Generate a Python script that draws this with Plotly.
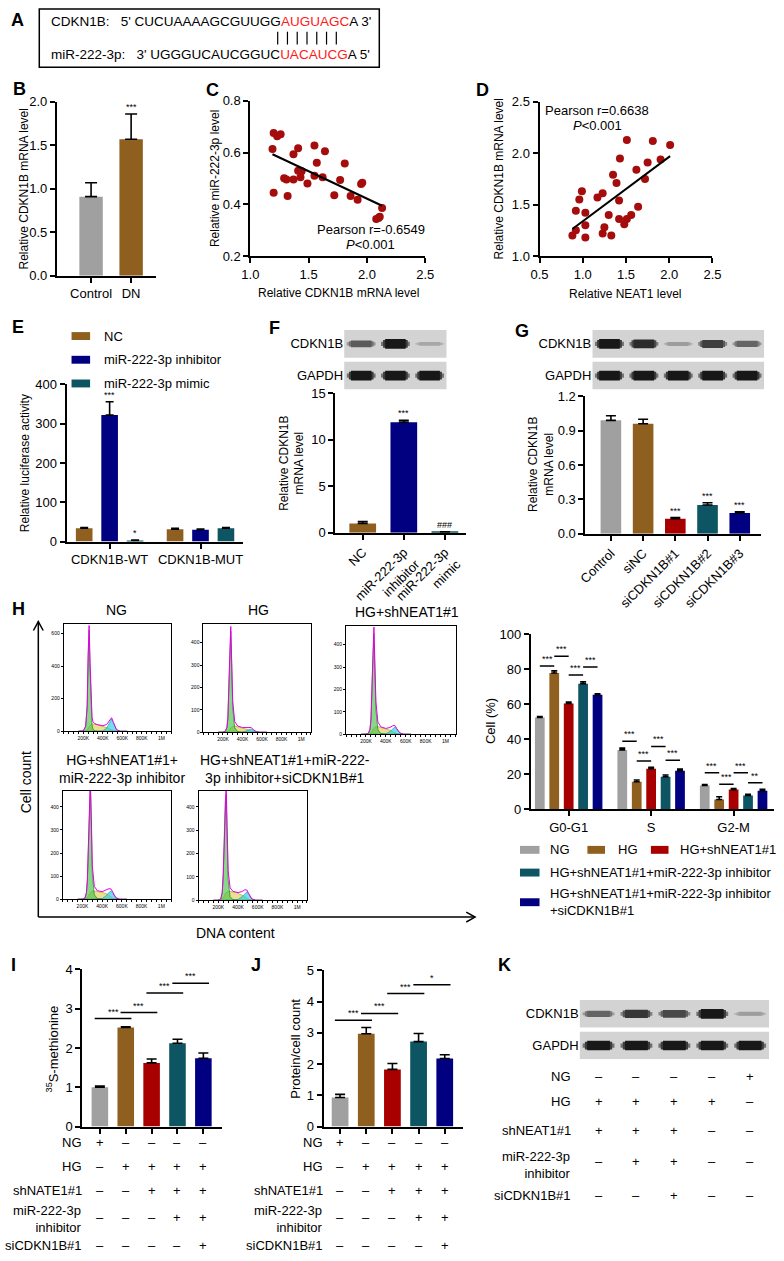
# -*- coding: utf-8 -*-
"""
CDKN1B / miR-222-3p / NEAT1 figure, panels A-K
"""
#-------------------------------------------------------
### IMPORTS ###

import numpy as np
import plotly.graph_objects as go


#-------------------------------------------------------
### DATA ###

# A - binding site
cdkn1b_seq = ["CDKN1B:", "5' CUCUAAAAGCGUUGG", "AUGUAGC", "A 3'"]
mir_seq = ["miR-222-3p:", "3' UGGGUCAUCGGUC", "UACAUCG", "A 5'"]

# B
b_groups = ["Control", "DN"]
b_mean = [0.91, 1.57]
b_sd = [0.16, 0.29]
b_stars = ["", "***"]

# C
c_x = [1.20, 1.23, 1.26, 1.19, 1.20, 1.29, 1.31, 1.32, 1.37, 1.37, 1.41, 1.41, 1.44, 1.43, 1.49, 1.55,
       1.57, 1.55, 1.62, 1.64, 1.72, 1.77, 1.81, 1.86, 1.92, 1.95, 1.96, 2.13, 2.11, 2.08, 2.10]
c_y = [0.676, 0.663, 0.671, 0.614, 0.445, 0.501, 0.496, 0.432, 0.594, 0.496, 0.617, 0.530, 0.528, 0.505,
       0.480, 0.627, 0.561, 0.510, 0.505, 0.605, 0.435, 0.494, 0.558, 0.432, 0.418, 0.478, 0.483, 0.386,
       0.352, 0.343, 0.347]
c_stat = ["Pearson r=-0.6549", "<i>P</i>&lt;0.001"]

# D
d_x = [1.51, 1.81, 2.01, 1.43, 1.90, 1.75, 1.62, 1.35, 1.72, 1.39, 0.99, 0.96, 1.23, 1.17, 1.42, 0.92,
       1.03, 1.64, 1.30, 1.42, 1.56, 1.51, 1.48, 1.03, 1.25, 0.92, 0.88, 1.03, 1.23, 1.33]
d_y = [2.13, 2.12, 2.08, 1.95, 1.94, 1.91, 1.84, 1.79, 1.75, 1.71, 1.63, 1.55, 1.61, 1.57, 1.54, 1.44,
       1.42, 1.48, 1.40, 1.36, 1.40, 1.36, 1.31, 1.30, 1.28, 1.25, 1.20, 1.18, 1.22, 1.20]
d_stat = ["Pearson r=0.6638", "<i>P</i>&lt;0.001"]

# E
e_groups = ["CDKN1B-WT", "CDKN1B-MUT"]
e_names = ["NC", "miR-222-3p inhibitor", "miR-222-3p mimic"]
e_nc = [34, 31.5]
e_nc_sd = [2, 2]
e_inh = [322, 30]
e_inh_sd = [34, 2]
e_mim = [3, 34]
e_mim_sd = [1, 2]
e_stars = [["", ""], ["***", ""], ["*", ""]]

# F
f_groups = ["NC", "miR-222-3p<br>inhibitor", "miR-222-3p<br>mimic"]
f_mean = [1.0, 11.9, 0.08]
f_sd = [0.2, 0.2, 0.02]
f_stars = ["", "***", "###"]
f_blot_cdkn1b = [0.6, 0.95, 0.2]
f_blot_gapdh = [0.95, 0.95, 0.95]

# G
g_groups = ["Control", "siNC", "siCDKN1B#1", "siCDKN1B#2", "siCDKN1B#3"]
g_mean = [0.99, 0.96, 0.13, 0.25, 0.18]
g_sd = [0.04, 0.04, 0.01, 0.02, 0.01]
g_stars = ["", "", "***", "***", "***"]
g_blot_cdkn1b = [0.95, 0.85, 0.25, 0.75, 0.55]
g_blot_gapdh = [0.95, 0.95, 0.95, 0.95, 0.95]

# H - flow cytometry histograms (DNA content in K, counts)
hist_titles = ["NG", "HG", "HG+shNEAT1#1", "HG+shNEAT1#1+<br>miR-222-3p inhibitor",
               "HG+shNEAT1#1+miR-222-<br>3p inhibitor+siCDKN1B#1"]
hist_dna = [150, 200, 225, 240, 250, 260, 270, 280, 290, 300, 320, 350, 400, 440, 470, 490, 510, 540, 580, 650]
ng_g1 = [0, 2, 30, 150, 450, 620, 380, 130, 40, 12, 2, 0, 0, 0, 0, 0, 0, 0, 0, 0]
ng_s = [0, 0, 2, 8, 18, 28, 36, 42, 45, 46, 44, 40, 32, 22, 14, 8, 3, 0, 0, 0]
ng_g2 = [0, 0, 0, 0, 0, 0, 0, 0, 0, 0, 0, 0, 2, 20, 55, 75, 50, 10, 0, 0]
hg_g1 = [0, 0, 5, 20, 60, 160, 330, 450, 300, 110, 20, 3, 0, 0, 0, 0, 0, 0, 0, 0]
hg_s = [0, 0, 0, 2, 5, 10, 16, 22, 26, 28, 28, 25, 20, 14, 10, 6, 2, 0, 0, 0]
hg_g2 = [0, 0, 0, 0, 0, 0, 0, 0, 0, 0, 0, 0, 1, 6, 12, 15, 10, 3, 0, 0]
sh_g1 = [0, 0, 5, 20, 60, 160, 330, 450, 300, 110, 20, 3, 0, 0, 0, 0, 0, 0, 0, 0]
sh_s = [0, 0, 0, 3, 8, 15, 22, 28, 32, 34, 34, 30, 24, 18, 12, 7, 3, 0, 0, 0]
sh_g2 = [0, 0, 0, 0, 0, 0, 0, 0, 0, 0, 0, 0, 2, 12, 26, 32, 22, 6, 0, 0]
inh_g1 = [0, 0, 5, 25, 80, 200, 380, 490, 320, 110, 20, 3, 0, 0, 0, 0, 0, 0, 0, 0]
inh_s = [0, 0, 0, 3, 8, 15, 24, 30, 34, 36, 36, 34, 30, 24, 16, 9, 3, 0, 0, 0]
inh_g2 = [0, 0, 0, 0, 0, 0, 0, 0, 0, 0, 0, 0, 3, 15, 30, 35, 24, 6, 0, 0]
si_g1 = [0, 0, 5, 30, 100, 250, 420, 455, 280, 90, 15, 2, 0, 0, 0, 0, 0, 0, 0, 0]
si_s = [0, 0, 0, 4, 10, 18, 28, 34, 36, 38, 38, 36, 30, 22, 15, 8, 3, 0, 0, 0]
si_g2 = [0, 0, 0, 0, 0, 0, 0, 0, 0, 0, 0, 0, 3, 15, 30, 36, 25, 6, 0, 0]

# H - cell cycle bars
h_phases = ["G0-G1", "S", "G2-M"]
h_names = ["NG", "HG", "HG+shNEAT1#1", "HG+shNEAT1#1+miR-222-3p inhibitor",
           "HG+shNEAT1#1+miR-222-3p inhibitor<br>+siCDKN1B#1"]
h_ng = [52.5, 34, 13.6]
h_ng_sd = [0.6, 1.0, 0.6]
h_hg = [78, 15.8, 5.6]
h_hg_sd = [1.2, 1.0, 1.6]
h_sh = [60.5, 23.2, 11.3]
h_sh_sd = [0.9, 0.9, 0.6]
h_inh = [71.8, 18.6, 7.9]
h_inh_sd = [1.1, 1.0, 0.7]
h_si = [65.5, 22, 10.6]
h_si_sd = [0.6, 1.0, 0.9]
# (phase, group a, group b, height, label)
h_sig = [(0, 0, 1, 82, "***"), (0, 1, 2, 87.6, "***"), (0, 2, 3, 76.8, "***"), (0, 3, 4, 81.4, "***"),
         (1, 0, 1, 39, "***"), (1, 1, 2, 27.7, "***"), (1, 2, 3, 36, "***"), (1, 3, 4, 28, "***"),
         (2, 0, 1, 20.9, "***"), (2, 1, 2, 14.3, "***"), (2, 2, 3, 20.9, "***"), (2, 3, 4, 15.2, "**")]

# I
i_mean = [1.0, 2.52, 1.62, 2.12, 1.74]
i_sd = [0.03, 0.02, 0.1, 0.1, 0.13]
i_sig = [(0, 1, 2.75, "***"), (1, 2, 2.9, "***"), (2, 3, 3.4, "***"), (3, 4, 3.65, "***")]

# J
j_mean = [0.93, 2.97, 1.83, 2.72, 2.18]
j_sd = [0.1, 0.2, 0.19, 0.26, 0.12]
j_sig = [(0, 1, 3.4, "***"), (1, 2, 3.62, "***"), (2, 3, 4.26, "***"), (3, 4, 4.54, "*")]

ij_rows = ["NG", "HG", "shNATE1#1", "miR-222-3p<br>inhibitor", "siCDKN1B#1"]
ij_signs = [["+", "–", "–", "–", "–"],
            ["–", "+", "+", "+", "+"],
            ["–", "–", "+", "+", "+"],
            ["–", "–", "–", "+", "+"],
            ["–", "–", "–", "–", "+"]]

# K
k_blot_cdkn1b = [0.55, 0.8, 0.7, 0.95, 0.25]
k_blot_gapdh = [0.95, 0.95, 0.95, 0.95, 0.95]
k_rows = ["NG", "HG", "shNEAT1#1", "miR-222-3p<br>inhibitor", "siCDKN1B#1"]
k_signs = [["–", "–", "–", "–", "+"],
           ["+", "+", "+", "+", "–"],
           ["+", "+", "+", "–", "–"],
           ["–", "+", "+", "–", "–"],
           ["–", "–", "+", "–", "–"]]


#-------------------------------------------------------
### STYLE ###

W, H = 784, 1261
FONT = "Liberation Sans, Arial, sans-serif"
GRAY = "#a0a0a0"
BROWN = "#8f5f1f"
RED = "#a80000"
TEAL = "#0d5562"
NAVY = "#000080"
DOT = "#a50d0d"
FIVE = [GRAY, BROWN, RED, TEAL, NAVY]

fig = go.Figure()
axes_layout = {}
shapes = []
annos = []
n_axes = [0]


def axes(x0, x1, y0, y1, xo, yo):
    # pixel box -> paper domains
    n_axes[0] += 1
    s = "" if n_axes[0] == 1 else str(n_axes[0])
    axes_layout["xaxis" + s] = dict(domain=[x0 / W, x1 / W], anchor="y" + s, **xo)
    axes_layout["yaxis" + s] = dict(domain=[1 - y1 / H, 1 - y0 / H], anchor="x" + s, **yo)
    return "x" + s, "y" + s


def ax_style(rng, **kw):
    d = dict(range=rng, showline=True, linecolor="black", linewidth=2, ticks="outside",
             ticklen=5, tickwidth=2, tickcolor="black", showgrid=False, zeroline=False,
             fixedrange=True, tickfont=dict(family=FONT, size=13, color="black"))
    d.update(kw)
    return d


def text(x, y, s, size=13, **kw):
    d = dict(x=x / W, y=1 - y / H, xref="paper", yref="paper", text=s, showarrow=False,
             xanchor="center", yanchor="middle", font=dict(family=FONT, size=size, color="black"))
    d.update(kw)
    annos.append(d)


def letter(x, y, s):
    text(x, y, "<b>" + s + "</b>", size=18)


def star(xa, ya, x, y, s, size=9):
    annos.append(dict(x=x, y=y, xref=xa, yref=ya, text=s, showarrow=False, xanchor="center",
                      yanchor="bottom", yshift=0, font=dict(family=FONT, size=size, color="black")))


def add_bars(xa, ya, xs, means, sds, color, width, cap=5):
    fig.add_trace(go.Bar(x=xs, y=means, width=width, marker=dict(color=color, line=dict(width=0)),
                         error_y=dict(type="data", symmetric=False, array=sds,
                                      arrayminus=[0] * len(sds), color="black",
                                      thickness=1.6, width=cap),
                         xaxis=xa, yaxis=ya, showlegend=False, hoverinfo="skip"))


def bracket(xa, ya, xl, xr, y, s):
    fig.add_trace(go.Scatter(x=[xl, xr], y=[y, y], mode="lines", line=dict(color="black", width=1.5),
                             xaxis=xa, yaxis=ya, showlegend=False, hoverinfo="skip"))
    star(xa, ya, (xl + xr) / 2, y, s)


def blot(xa, ya, top, bottom):
    n = len(top)
    for vals, y0, y1 in [(top, 1.07, 2.0), (bottom, 0.0, 0.93)]:
        shapes.append(dict(type="rect", xref=xa, yref=ya, x0=-0.5, x1=n - 0.5, y0=y0, y1=y1,
                           fillcolor="#d3d3d3", line=dict(width=0), layer="below"))
        yc = (y0 + y1) / 2
        for i, v in enumerate(vals):
            for half, wm, k in [(0.42, 0.45, 0.5), (0.36, 0.8, 0.8), (0.3, 1.0, 1.0)]:
                g = int(205 - 190 * v * k)
                fig.add_trace(go.Scatter(x=[i - half, i + half], y=[yc, yc], mode="lines",
                                         line=dict(color="rgb(%d,%d,%d)" % (g, g, g), width=(2 + 8 * v) * wm),
                                         xaxis=xa, yaxis=ya, showlegend=False, hoverinfo="skip"))


def blot_y(labels):
    return dict(range=[0, 2], tickvals=[1.535, 0.465], ticktext=labels, showline=False, ticks="",
                showgrid=False, zeroline=False, fixedrange=True,
                tickfont=dict(family=FONT, size=13, color="black"))


def hidden(rng):
    return dict(range=rng, visible=False, fixedrange=True)


def sign_table(xa, row_y, label_y, label_x, rows, signs):
    for r, row in enumerate(rows):
        text(label_x, label_y[r], row, size=13, xanchor="right", align="right")
        for c, sgn in enumerate(signs[r]):
            annos.append(dict(x=c, y=1 - row_y[r] / H, xref=xa, yref="paper", text=sgn,
                              showarrow=False, xanchor="center", yanchor="middle",
                              font=dict(family=FONT, size=13, color="black")))


def paper_line(x0, y0, x1, y1, width=1.5):
    shapes.append(dict(type="line", xref="paper", yref="paper", x0=x0 / W, x1=x1 / W,
                       y0=1 - y0 / H, y1=1 - y1 / H, line=dict(color="black", width=width)))


#-------------------------------------------------------
### A ###

letter(9, 13, "A")
shapes.append(dict(type="rect", xref="paper", yref="paper", x0=31 / W, x1=379 / W,
                   y0=1 - 61 / H, y1=1 - 2 / H, line=dict(color="black", width=1.5)))
gap = "\u00a0\u00a0\u00a0"
for y, seq in [(15, cdkn1b_seq), (48, mir_seq)]:
    text(42, y, seq[0] + gap + seq[1] + "<span style='color:#ff1a1a'>" + seq[2] + "</span>" + seq[3],
         size=13.5, xanchor="left", borderpad=0)
for i in range(len(cdkn1b_seq[2])):
    paper_line(275 + 10 * i, 25, 275 + 10 * i, 38, width=1.2)

#-------------------------------------------------------
### B ###

letter(11, 83, "B")
xa, ya = axes(49, 150, 96, 272,
              ax_style([-0.854, 1.61], tickvals=[0, 1], ticktext=b_groups),
              ax_style([0, 2], dtick=0.5, tickformat=".1f"))
add_bars(xa, ya, [0, 1], b_mean, b_sd, [GRAY, BROWN], 0.585, cap=6)
for i, s in enumerate(b_stars):
    if s:
        star(xa, ya, i, b_mean[i] + b_sd[i], s)
text(15, 184, "Relative CDKN1B mRNA level", size=12, textangle=-90)

#-------------------------------------------------------
### C ###

letter(208, 84, "C")
xa, ya = axes(247, 426, 95, 252,
              ax_style([1.0, 2.5], dtick=0.5, tickformat=".1f"),
              ax_style([0.2, 0.8], dtick=0.2, tickformat=".1f"))
fig.add_trace(go.Scatter(x=c_x, y=c_y, mode="markers", marker=dict(size=8, color=DOT),
                         xaxis=xa, yaxis=ya, showlegend=False, hoverinfo="skip"))
k, b = np.polyfit(c_x, c_y, 1)
xl = np.array([min(c_x), max(c_x)])
fig.add_trace(go.Scatter(x=xl, y=k * xl + b, mode="lines", line=dict(color="black", width=2),
                         xaxis=xa, yaxis=ya, showlegend=False, hoverinfo="skip"))
text(370, 225, c_stat[0], size=13)
text(370, 240, c_stat[1], size=13)
text(211, 174, "Relative miR-222-3p level", size=12, textangle=-90)
text(337, 289, "Relative CDKN1B mRNA level", size=12)

#-------------------------------------------------------
### D ###

letter(485, 84, "D")
xa, ya = axes(543, 720, 96, 252,
              ax_style([0.5, 2.5], dtick=0.5, tickformat=".1f"),
              ax_style([1.0, 2.5], dtick=0.5, tickformat=".1f"))
fig.add_trace(go.Scatter(x=d_x, y=d_y, mode="markers", marker=dict(size=8, color=DOT),
                         xaxis=xa, yaxis=ya, showlegend=False, hoverinfo="skip"))
k, b = np.polyfit(d_x, d_y, 1)
xl = np.array([min(d_x), max(d_x)])
fig.add_trace(go.Scatter(x=xl, y=k * xl + b, mode="lines", line=dict(color="black", width=2),
                         xaxis=xa, yaxis=ya, showlegend=False, hoverinfo="skip"))
text(602, 105, d_stat[0], size=13)
text(602, 120, d_stat[1], size=13)
text(501, 174, "Relative CDKN1B mRNA level", size=12, textangle=-90)
text(631, 290, "Relative NEAT1 level", size=12)

#-------------------------------------------------------
### E ###

letter(9, 324, "E")
xa, ya = axes(59, 240, 382, 541,
              ax_style([-0.473, 1.473], tickvals=[0, 1], ticktext=e_groups),
              ax_style([0, 400], dtick=100))
e_series = [(e_nc, e_nc_sd, BROWN), (e_inh, e_inh_sd, NAVY), (e_mim, e_mim_sd, TEAL)]
for j, (means, sds, col) in enumerate(e_series):
    xs = [g + (j - 1) * 0.28 for g in range(len(e_groups))]
    add_bars(xa, ya, xs, means, sds, col, 0.183, cap=4)
    for g, s in enumerate(e_stars[j]):
        if s:
            star(xa, ya, xs[g], means[g] + sds[g], s)
for j, (name, yc) in enumerate(zip(e_names, [333, 357, 381])):
    shapes.append(dict(type="rect", xref="paper", yref="paper", x0=64 / W, x1=83 / W,
                       y0=1 - (yc + 4) / H, y1=1 - (yc - 4) / H, fillcolor=e_series[j][2],
                       line=dict(width=0)))
    text(95, yc, name, size=13, xanchor="left")
text(16, 462, "Relative luciferase activity", size=12, textangle=-90)

#-------------------------------------------------------
### F ###

letter(272, 325, "F")
xa, ya = axes(343, 448, 327, 387, hidden([-0.5, 2.5]), blot_y(["CDKN1B", "GAPDH"]))
blot(xa, ya, f_blot_cdkn1b, f_blot_gapdh)
xa, ya = axes(334, 468, 391, 532,
              ax_style([-0.667, 2.52], tickvals=[0, 1, 2], ticktext=f_groups, tickangle=-45),
              ax_style([0, 15], dtick=5))
add_bars(xa, ya, [0, 1, 2], f_mean, f_sd, [BROWN, NAVY, TEAL], 0.65, cap=5)
for i, s in enumerate(f_stars):
    if s:
        star(xa, ya, i, f_mean[i] + f_sd[i], s)
text(289, 462, "Relative CDKN1B<br>mRNA level", size=12, textangle=-90)

#-------------------------------------------------------
### G ###

letter(525, 328, "G")
xa, ya = axes(597, 773, 327, 387, hidden([-0.5, 4.5]), blot_y(["CDKN1B", "GAPDH"]))
blot(xa, ya, g_blot_cdkn1b, g_blot_gapdh)
xa, ya = axes(590, 770, 394, 533,
              ax_style([-0.79, 4.67], tickvals=list(range(5)), ticktext=g_groups, tickangle=-45),
              ax_style([0, 1.2], dtick=0.3, tickformat=".1f"))
add_bars(xa, ya, list(range(5)), g_mean, g_sd, FIVE, 0.64, cap=5)
for i, s in enumerate(g_stars):
    if s:
        star(xa, ya, i, g_mean[i] + g_sd[i], s)
text(545, 463, "Relative CDKN1B<br>mRNA level", size=12, textangle=-90)

#-------------------------------------------------------
### H - histograms ###

letter(10, 609, "H")
hist_boxes = [(56, 166, 624, 733), (199, 309, 624, 734), (345, 457, 626, 736),
              (55, 166, 793, 903), (194, 305, 793, 904)]
hist_ymax = [660, 485, 485, 470, 470]
hist_yticks = [[0, 200, 400, 600], [0, 100, 200, 300, 400], [0, 100, 200, 300, 400],
               [0, 100, 200, 300, 400], [0, 100, 200, 300, 400]]
hist_parts = [(ng_g1, ng_s, ng_g2), (hg_g1, hg_s, hg_g2), (sh_g1, sh_s, sh_g2),
              (inh_g1, inh_s, inh_g2), (si_g1, si_s, si_g2)]
hist_title_pos = [(110, 610), (255, 610), (407, 612), (116, 771), (282, 771)]

for box, ymax, yt, (g1, s, g2), title, tpos in zip(hist_boxes, hist_ymax, hist_yticks,
                                                     hist_parts, hist_titles, hist_title_pos):
    xo = dict(range=[0, 1100], tickvals=[200, 400, 600, 800, 1000],
              ticktext=["200K", "400K", "600K", "800K", "1M"], showline=True, mirror=True,
              linecolor="black", linewidth=1, ticks="outside", ticklen=2, tickwidth=0.8,
              tickcolor="black", showgrid=False, zeroline=False, fixedrange=True,
              tickfont=dict(family=FONT, size=5, color="black"),
              minor=dict(ticks="outside", ticklen=1.5, dtick=50, tickcolor="black", tickwidth=0.5))
    yo = dict(range=[0, ymax], tickvals=yt, showline=True, mirror=True, linecolor="black",
              linewidth=1, ticks="outside", ticklen=2, tickwidth=0.8, tickcolor="black",
              showgrid=False, zeroline=False, fixedrange=True,
              tickfont=dict(family=FONT, size=5, color="black"))
    xa, ya = axes(box[0], box[1], box[2], box[3], xo, yo)
    for part, fc, lc in [(s, "rgba(220,205,70,0.6)", "rgba(140,130,0,0.8)"),
                         (g2, "rgba(40,205,230,0.65)", "rgba(0,120,150,0.8)"),
                         (g1, "rgba(70,195,70,0.65)", "rgba(0,100,0,0.9)")]:
        fig.add_trace(go.Scatter(x=hist_dna, y=part, mode="lines", fill="tozeroy", fillcolor=fc,
                                 line=dict(color=lc, width=0.6), xaxis=xa, yaxis=ya,
                                 showlegend=False, hoverinfo="skip"))
    total = np.array(g1) + np.array(s) + np.array(g2)
    fig.add_trace(go.Scatter(x=hist_dna, y=total, mode="lines", line=dict(color="#e000e0", width=1),
                             xaxis=xa, yaxis=ya, showlegend=False, hoverinfo="skip"))
    text(tpos[0], tpos[1], title, size=14)

# cell count / DNA content arrows with open heads
paper_line(30, 921, 30, 622)
paper_line(30, 921, 477, 921)
for path in ["M %f,%f L %f,%f L %f,%f" % (25 / W, 1 - 631 / H, 30 / W, 1 - 622 / H, 35 / W, 1 - 631 / H),
             "M %f,%f L %f,%f L %f,%f" % (468 / W, 1 - 916 / H, 477 / W, 1 - 921 / H, 468 / W, 1 - 926 / H)]:
    shapes.append(dict(type="path", xref="paper", yref="paper", path=path,
                       line=dict(color="black", width=1.5)))
text(17, 785, "Cell count", size=14, textangle=-90)
text(232, 937, "DNA content", size=14)

#-------------------------------------------------------
### H - bars ###

xa, ya = axes(534, 783, 635, 812,
              ax_style([-0.46, 2.49], tickvals=[0, 1, 2], ticktext=h_phases),
              ax_style([0, 100], dtick=20))
h_series = [(h_ng, h_ng_sd), (h_hg, h_hg_sd), (h_sh, h_sh_sd), (h_inh, h_inh_sd), (h_si, h_si_sd)]
slot = 0.175
for j, (means, sds) in enumerate(h_series):
    xs = [g + (j - 2) * slot for g in range(len(h_phases))]
    add_bars(xa, ya, xs, means, sds, FIVE[j], 0.118, cap=3)
for ph, a, bb, y, s in h_sig:
    bracket(xa, ya, ph + (a - 2) * slot, ph + (bb - 2) * slot, y, s)
text(493, 723, "Cell (%)", size=13, textangle=-90)

legend_pos = [(523, 543, 853, 552), (592, 610, 853, 621), (657, 675, 853, 685),
              (523, 543, 876, 552), (523, 543, 906, 552)]
for j, (x0, x1, yc, tx) in enumerate(legend_pos):
    shapes.append(dict(type="rect", xref="paper", yref="paper", x0=x0 / W, x1=x1 / W,
                       y0=1 - (yc + 4) / H, y1=1 - (yc - 4) / H, fillcolor=FIVE[j],
                       line=dict(width=0)))
    text(tx, yc, h_names[j], size=13, xanchor="left", align="left")

#-------------------------------------------------------
### I / J ###

ij_row_y = [1149, 1173, 1198, 1225, 1253]
ij_label_y = [1149, 1173, 1198, 1227, 1253]

for lab, ltr, box, xr, yr, means, sds, sig, title, title_x, label_x in [
        ("I", (5, 970), (75, 218, 974, 1133), [-0.68, 4.72], [0, 4], i_mean, i_sd, i_sig,
         "<sup>35</sup>S-methionine", 45, 77),
        ("J", (253, 970), (322, 465, 975, 1133), [-0.63, 4.71], [0, 5], j_mean, j_sd, j_sig,
         "Protein/cell count", 293, 323)]:
    letter(ltr[0], ltr[1], lab)
    xa, ya = axes(box[0], box[1], box[2], box[3],
                  ax_style(xr, tickvals=list(range(5)), showticklabels=False),
                  ax_style(yr, dtick=1))
    add_bars(xa, ya, list(range(5)), means, sds, FIVE, 0.64, cap=5)
    for a, bb, y, s in sig:
        bracket(xa, ya, a - 0.2, bb + 0.22, y, s)
    text(title_x, 1054, title, size=13, textangle=-90)
    sign_table(xa, ij_row_y, ij_label_y, label_x, ij_rows, ij_signs)

#-------------------------------------------------------
### K ###

letter(507, 970, "K")
xa, ya = axes(584, 778, 1005, 1065, hidden([-0.5, 4.5]), blot_y(["CDKN1B", "GAPDH"]))
blot(xa, ya, k_blot_cdkn1b, k_blot_gapdh)
sign_table(xa, [1082, 1108, 1137, 1168, 1203], [1082, 1108, 1137, 1172, 1203], 577, k_rows, k_signs)


#-------------------------------------------------------
### LAYOUT ###

fig.update_layout(width=W, height=H, margin=dict(l=0, r=0, t=0, b=0),
                  paper_bgcolor="white", plot_bgcolor="white", barmode="overlay",
                  showlegend=False, font=dict(family=FONT, color="black"),
                  annotations=annos, shapes=shapes, **axes_layout)

# page body has a default 8px margin; drop it so the figure sits at the window origin
fig.write_html("out.html", config={"displayModeBar": False},
               post_script="document.body.style.margin='0px';")
